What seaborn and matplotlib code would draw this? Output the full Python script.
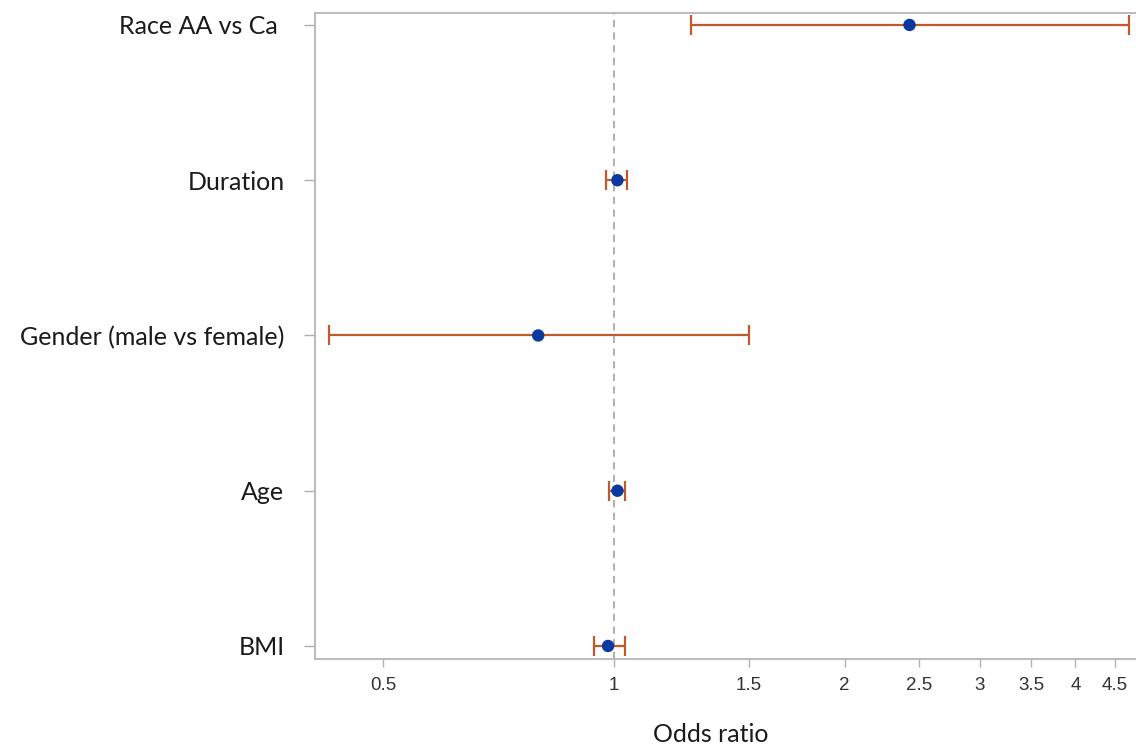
import matplotlib
matplotlib.use('Agg')
import matplotlib.pyplot as plt
import numpy as np
import pandas as pd
import seaborn as sns

# forest plot values (odds ratio + 95% CI)
labels = ['Race AA vs Ca ', 'Duration', 'Gender (male vs female)', 'Age', 'BMI']
odds_ratio = [2.43, 1.01, 0.796, 1.01, 0.982]
ci_low = [1.26, 0.976, 0.424, 0.985, 0.942]
ci_high = [4.70, 1.04, 1.50, 1.033, 1.033]
xticks = [0.5, 1, 1.5, 2, 2.5, 3, 3.5, 4, 4.5]
xtick_labels = ['0.5', '1', '1.5', '2', '2.5', '3', '3.5', '4', '4.5']

df = pd.DataFrame({'label': labels, 'or': odds_ratio, 'lo': ci_low, 'hi': ci_high})
df['pos'] = np.arange(len(df))

sns.set_theme(style='white')
plt.rcParams['font.family'] = ['Liberation Sans', 'DejaVu Sans']

fig = plt.figure(figsize=(11.36, 7.47), dpi=100)
ax = fig.add_axes([0.2773, 0.1178, 0.7227, 0.8648])

ax.axvline(1, color='#a9a9a9', ls=(0, (4, 3)), lw=1.3, zorder=1)
ax.errorbar(df['or'], df['pos'],
            xerr=[df['or'] - df['lo'], df['hi'] - df['or']],
            fmt='none', ecolor='#c0592e', elinewidth=1.6, capsize=7.5, capthick=1.6, zorder=2)
sns.scatterplot(data=df, x='or', y='pos', color='#0a3aa0', s=80, edgecolor='none', zorder=3, ax=ax)

ax.set_xscale('log')
ax.set_xlim(0.407, 4.8)
ax.set_ylim(4.084, -0.077)
ax.set_xticks(xticks)
ax.set_xticklabels(xtick_labels)
ax.minorticks_off()
ax.set_yticks(df['pos'])
ax.set_yticklabels(df['label'], fontsize=18, color='#1a1a1a', fontfamily=['Lato', 'DejaVu Sans'])

ax.tick_params(axis='x', length=6, width=1, color='#b0b0b0', labelsize=13.5, labelcolor='#333333', pad=7, bottom=True)
ax.tick_params(axis='y', length=8, width=1, color='#b0b0b0', pad=14, left=True)

for side in ['left', 'bottom', 'top']:
    ax.spines[side].set_color('#b5b5b5')
    ax.spines[side].set_linewidth(1.3)
ax.spines['right'].set_visible(False)

# the reference crops this label at the bottom edge; keep it just inside
ax.set_xlabel('Odds ratio', fontsize=18, color='#1a1a1a', fontfamily=['Lato', 'DejaVu Sans'])
ax.xaxis.set_label_coords(0.482, -0.099)
ax.set_ylabel('')

fig.savefig('out.png', dpi=100)
